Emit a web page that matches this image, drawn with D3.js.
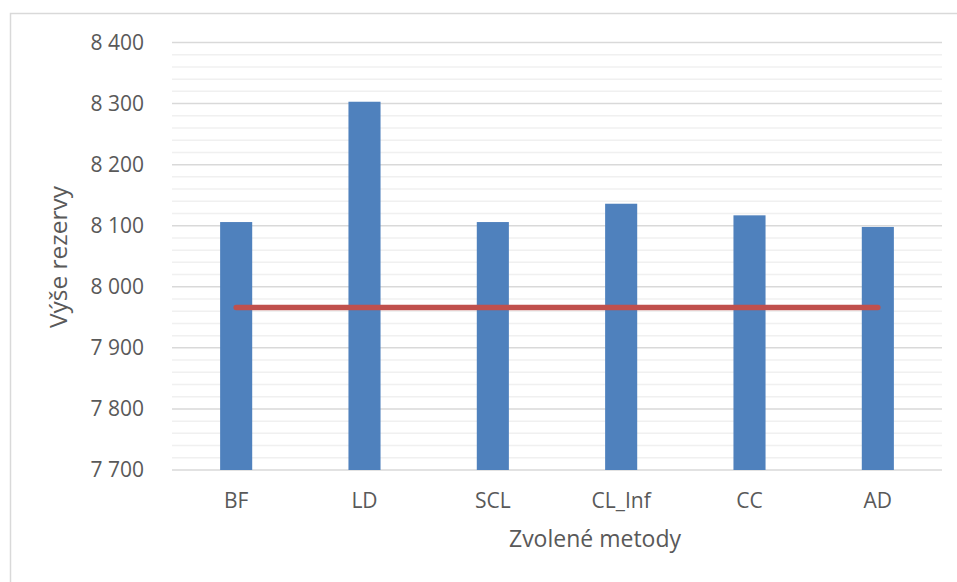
<!DOCTYPE html>
<html>
<head>
<meta charset="utf-8">
<script src="https://cdn.jsdelivr.net/npm/d3@7"></script>
<style>
  html, body { margin: 0; padding: 0; background: #ffffff; }
  svg { display: block; }
  text { font-family: "Open Sans", sans-serif; fill: #595959; }
</style>
</head>
<body>
<svg id="chart" width="957" height="582"></svg>
<script>
// ---- data ----
const categories = ["BF", "LD", "SCL", "CL_Inf", "CC", "AD"];
const reserveValues = [8106, 8303, 8106, 8136, 8117, 8098];
const referenceValues = [7966, 7966, 7966, 7966, 7966, 7966];
const yTicks = [7700, 7800, 7900, 8000, 8100, 8200, 8300, 8400];
const yMinorStep = 20;
const xTitle = "Zvolené metody";
const yTitle = "Výše rezervy";

// ---- layout ----
const W = 957, H = 582;
const plot = { left: 172, right: 942, top: 42.5, bottom: 470 };

const svg = d3.select("#chart");

// chart border
svg.append("rect")
  .attr("x", 10.5).attr("y", 13.5)
  .attr("width", 980).attr("height", 620)
  .attr("fill", "#fff").attr("stroke", "#d9d9d9").attr("stroke-width", 1.5);

const x = d3.scaleBand().domain(categories).range([plot.left, plot.right]).paddingInner(0).paddingOuter(0);
const y = d3.scaleLinear().domain([yTicks[0], yTicks[yTicks.length - 1]]).range([plot.bottom, plot.top]);

// minor gridlines
const minorTicks = d3.range(yTicks[0], yTicks[yTicks.length - 1] + 0.001, yMinorStep)
  .filter(v => !yTicks.includes(v));
svg.append("g").selectAll("line").data(minorTicks).join("line")
  .attr("x1", plot.left).attr("x2", plot.right)
  .attr("y1", d => y(d)).attr("y2", d => y(d))
  .attr("stroke", "#f0f0f0").attr("stroke-width", 1.5);

// major gridlines
svg.append("g").selectAll("line").data(yTicks).join("line")
  .attr("x1", plot.left).attr("x2", plot.right)
  .attr("y1", d => y(d)).attr("y2", d => y(d))
  .attr("stroke", "#d9d9d9").attr("stroke-width", 1.5);

// y axis labels
const yAxis = d3.axisLeft(y).tickValues(yTicks).tickSize(0).tickPadding(0)
  .tickFormat(d => d3.format(",")(d).replace(/,/g, " "));
const gy = svg.append("g").attr("transform", `translate(${plot.left - 28},0)`).call(yAxis);
gy.select(".domain").remove();
gy.selectAll("text").style("font-size", "21px").attr("fill", "#595959")
  .style("font-family", "'Open Sans', sans-serif");

// bars
const barW = x.step() / 4;
svg.append("g").selectAll("rect").data(categories).join("rect")
  .attr("x", (d) => x(d) + x.bandwidth() / 2 - barW / 2)
  .attr("width", barW)
  .attr("y", (d, i) => y(reserveValues[i]))
  .attr("height", (d, i) => y(yTicks[0]) - y(reserveValues[i]))
  .attr("fill", "#4f81bd");

// x axis labels
const xAxis = d3.axisBottom(x).tickSize(0).tickPadding(0);
const gx = svg.append("g").attr("transform", `translate(0,${plot.bottom + 23})`).call(xAxis);
gx.select(".domain").remove();
gx.selectAll("text").style("font-size", "21px").attr("fill", "#595959")
  .style("font-family", "'Open Sans', sans-serif");

// reference line
const line = d3.line()
  .x((d, i) => x(categories[i]) + x.bandwidth() / 2)
  .y(d => y(d));
svg.append("path").datum(referenceValues)
  .attr("d", line)
  .attr("fill", "none")
  .attr("stroke", "#c0504d")
  .attr("stroke-width", 5.5)
  .attr("stroke-linecap", "round");

// axis titles
svg.append("text")
  .attr("x", 595).attr("y", 547)
  .attr("text-anchor", "middle")
  .style("font-size", "23px")
  .text(xTitle);

svg.append("text")
  .attr("transform", "translate(67,257) rotate(-90)")
  .attr("text-anchor", "middle")
  .style("font-size", "24.5px")
  .text(yTitle);
</script>
</body>
</html>
